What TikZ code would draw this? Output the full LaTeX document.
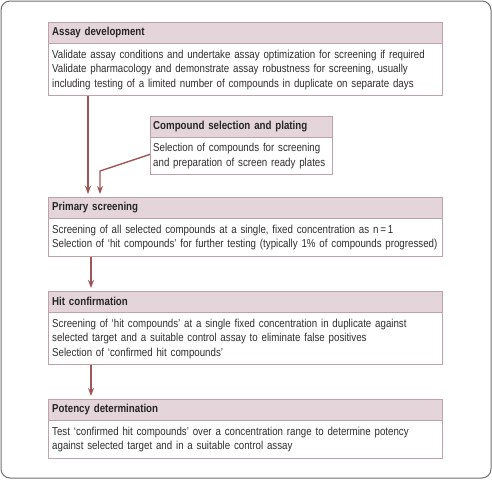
\documentclass[tikz,border=0pt]{standalone}
\usepackage{fontspec}
\setmainfont{Liberation Sans}[FakeStretch=0.845]
\usepackage{xcolor}
\usetikzlibrary{arrows.meta,positioning}
\definecolor{headfill}{HTML}{E4D5DA}
\definecolor{boxline}{HTML}{BFA1A8}
\definecolor{arrowred}{HTML}{9F5658}
\definecolor{framegray}{HTML}{6E6E6E}
\definecolor{bodytext}{HTML}{2E2E2E}

\begin{document}
\begin{tikzpicture}[x=1pt,y=-1pt,
  head/.style={draw=boxline,fill=headfill,minimum height=21pt,text width=386pt,inner xsep=4pt,anchor=north west,align=left,font=\fontsize{11.5}{13}\selectfont\bfseries,text=black!85},
  body/.style={draw=boxline,fill=white,text width=386pt,inner xsep=4pt,align=left,font=\fontsize{11.5}{14.5}\selectfont,text=bodytext},
  link/.style={draw=arrowred,line width=1.4pt,-{Stealth[length=8pt,width=6pt]},shorten >=3pt}]
\useasboundingbox (0,0) rectangle (492,479);
\draw[framegray,line width=1pt,rounded corners=9pt](1,1) rectangle (491,478);
% assay development
\node[head] (assayh) at (48,22) {Assay development};
\node[body,minimum height=52pt,below=0pt of assayh] (assayb) {Validate assay conditions and undertake assay optimization for screening if required\\
Validate pharmacology and demonstrate assay robustness for screening, usually\\
including testing of a limited number of compounds in duplicate on separate days};
% compound selection
\node[head,text width=176pt,inner xsep=3pt] (plateh) at (150,116) {Compound selection and plating};
\node[body,text width=176pt,inner xsep=3pt,minimum height=37pt,below=0pt of plateh] (plateb) {Selection of compounds for screening\\
and preparation of screen ready plates};
% primary screening
\node[head] (primh) at (48,197) {Primary screening};
\node[body,minimum height=38pt,below=0pt of primh] (primb) {Screening of all selected compounds at a single, fixed concentration as n\,=\,1\\
Selection of `hit compounds' for further testing (typically 1\% of compounds progressed)};
% hit confirmation
\node[head] (hith) at (48,291) {Hit confirmation};
\node[body,minimum height=52pt,below=0pt of hith] (hitb) {Screening of `hit compounds' at a single fixed concentration in duplicate against\\
selected target and a suitable control assay to eliminate false positives\\
Selection of `confirmed hit compounds'};
% potency determination
\node[head] (poth) at (48,399) {Potency determination};
\node[body,minimum height=38pt,below=0pt of poth] (potb) {Test `confirmed hit compounds' over a concentration range to determine potency\\
against selected target and in a suitable control assay};
% arrows
\coordinate (bend) at (100,171);
\draw[link]([xshift=40pt]assayb.south west)--([xshift=40pt]primh.north west);
\draw[link]([yshift=-17pt]plateb.north west)--(bend)--([xshift=52pt]primh.north west);
\draw[link]([xshift=43pt]primb.south west)--([xshift=43pt]hith.north west);
\draw[link]([xshift=43pt]hitb.south west)--([xshift=43pt]poth.north west);
\end{tikzpicture}
\end{document}
